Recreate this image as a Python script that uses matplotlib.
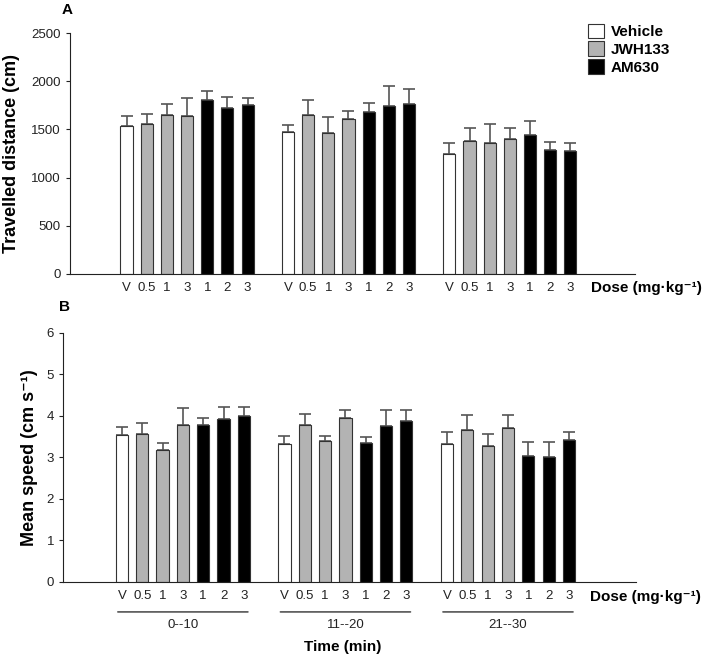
import numpy as np
import matplotlib.pyplot as plt
from matplotlib.patches import Patch

plt.rcParams['font.family'] = ['Liberation Sans', 'DejaVu Sans']

# Data
dose_labels = ["V", "0.5", "1", "3", "1", "2", "3"]
group_labels = ["0--10", "11--20", "21--30"]
treatment = ["Vehicle", "JWH133", "JWH133", "JWH133", "AM630", "AM630", "AM630"]

dist_mean = [
    [1535, 1556, 1653, 1642, 1805, 1719, 1750],
    [1476, 1649, 1466, 1608, 1684, 1739, 1760],
    [1245, 1376, 1356, 1397, 1442, 1290, 1279],
]
dist_err = [
    [101, 107, 107, 187, 93, 120, 79],
    [66, 152, 159, 86, 93, 211, 156],
    [117, 135, 200, 114, 145, 79, 83],
]

speed_mean = [
    [3.53, 3.55, 3.17, 3.77, 3.77, 3.92, 3.99],
    [3.32, 3.77, 3.39, 3.95, 3.35, 3.75, 3.87],
    [3.33, 3.66, 3.28, 3.71, 3.04, 3.01, 3.41],
]
speed_err = [
    [0.21, 0.27, 0.18, 0.42, 0.18, 0.29, 0.22],
    [0.20, 0.28, 0.12, 0.20, 0.13, 0.38, 0.26],
    [0.29, 0.36, 0.27, 0.31, 0.34, 0.37, 0.21],
]

colors = {"Vehicle": "white", "JWH133": "#b3b3b3", "AM630": "black"}


def draw_panel(ax, means, errs):
    for g in range(3):
        x = 8 * g + np.arange(7)
        ax.bar(x, means[g], width=0.6, color=[colors[t] for t in treatment],
               edgecolor="#333333", linewidth=0.8, zorder=2)
        ax.errorbar(x, means[g], yerr=[np.zeros(7), errs[g]], fmt="none",
                    ecolor="#555555", elinewidth=1.2, capsize=4, capthick=1.2,
                    zorder=1)
    ax.set_xticks([8 * g + i for g in range(3) for i in range(7)])
    ax.set_xticklabels(dose_labels * 3, fontsize=9.5, color="#222222")
    ax.tick_params(axis="x", length=0, pad=6)
    ax.tick_params(axis="y", length=3, labelsize=9.5, labelcolor="#222222",
                   color="#222222")
    ax.spines["top"].set_visible(False)
    ax.spines["right"].set_visible(False)
    ax.spines["left"].set_color("#222222")
    ax.spines["bottom"].set_color("#222222")


fig = plt.figure(figsize=(7.09, 6.58), dpi=100)
W, H = 709, 658
dose_text = "Dose (mg\u00b7kg\u207b\u00b9)"

# Panel A
axA = fig.add_axes([70 / W, 1 - 274 / H, 565 / W, 241 / H])
draw_panel(axA, dist_mean, dist_err)
axA.set_xlim(-2.8, 25.2)
axA.set_ylim(0, 2500)
axA.set_yticks(np.arange(0, 2501, 500))
axA.set_ylabel("Travelled distance (cm)", fontsize=13, fontweight="bold",
               labelpad=8)
fig.text(67 / W, 1 - 10 / H, "A", fontsize=11, fontweight="bold",
         ha="center", va="center")
fig.text(591 / W, 1 - 288 / H, dose_text, fontsize=11,
         fontweight="bold", ha="left", va="center")

# Panel B
axB = fig.add_axes([63 / W, 1 - 582 / H, 573 / W, 249.3 / H])
draw_panel(axB, speed_mean, speed_err)
axB.set_xlim(-2.9, 25.3)
axB.set_ylim(0, 6)
axB.set_yticks(np.arange(0, 7, 1))
axB.set_ylabel("Mean speed (cm s\u207b\u00b9)", fontsize=13, fontweight="bold",
               labelpad=6)
fig.text(65 / W, 1 - 307 / H, "B", fontsize=11, fontweight="bold",
         ha="center", va="center")
fig.text(590 / W, 1 - 597 / H, dose_text, fontsize=11,
         fontweight="bold", ha="left", va="center")

# group underlines and time labels
for g in range(3):
    x0, x1 = 8 * g - 0.2, 8 * g + 6.2
    axB.annotate("", xy=(x0, -0.72), xytext=(x1, -0.72),
                 xycoords=("data", "data"), annotation_clip=False,
                 arrowprops=dict(arrowstyle="-", color="#555555", lw=1.2,
                                 shrinkA=0, shrinkB=0))
    axB.text(8 * g + 3, -1.03, group_labels[g], fontsize=9.5, color="#222222",
             ha="center", va="center", clip_on=False)
fig.text(343 / W, 1 - 647 / H, "Time (min)", fontsize=11, fontweight="bold",
         ha="center", va="center")

# Legend
handles = [Patch(facecolor=colors[k], edgecolor="#333333", linewidth=0.8, label=k)
           for k in ["Vehicle", "JWH133", "AM630"]]
fig.legend(handles=handles, loc="upper left", bbox_to_anchor=(580 / W, 1 - 16 / H),
           frameon=False, prop={"weight": "bold", "size": 11},
           handlelength=1.1, handleheight=1.1, handletextpad=0.4,
           labelspacing=0.15, borderpad=0)

fig.savefig("out.png", dpi=100)
